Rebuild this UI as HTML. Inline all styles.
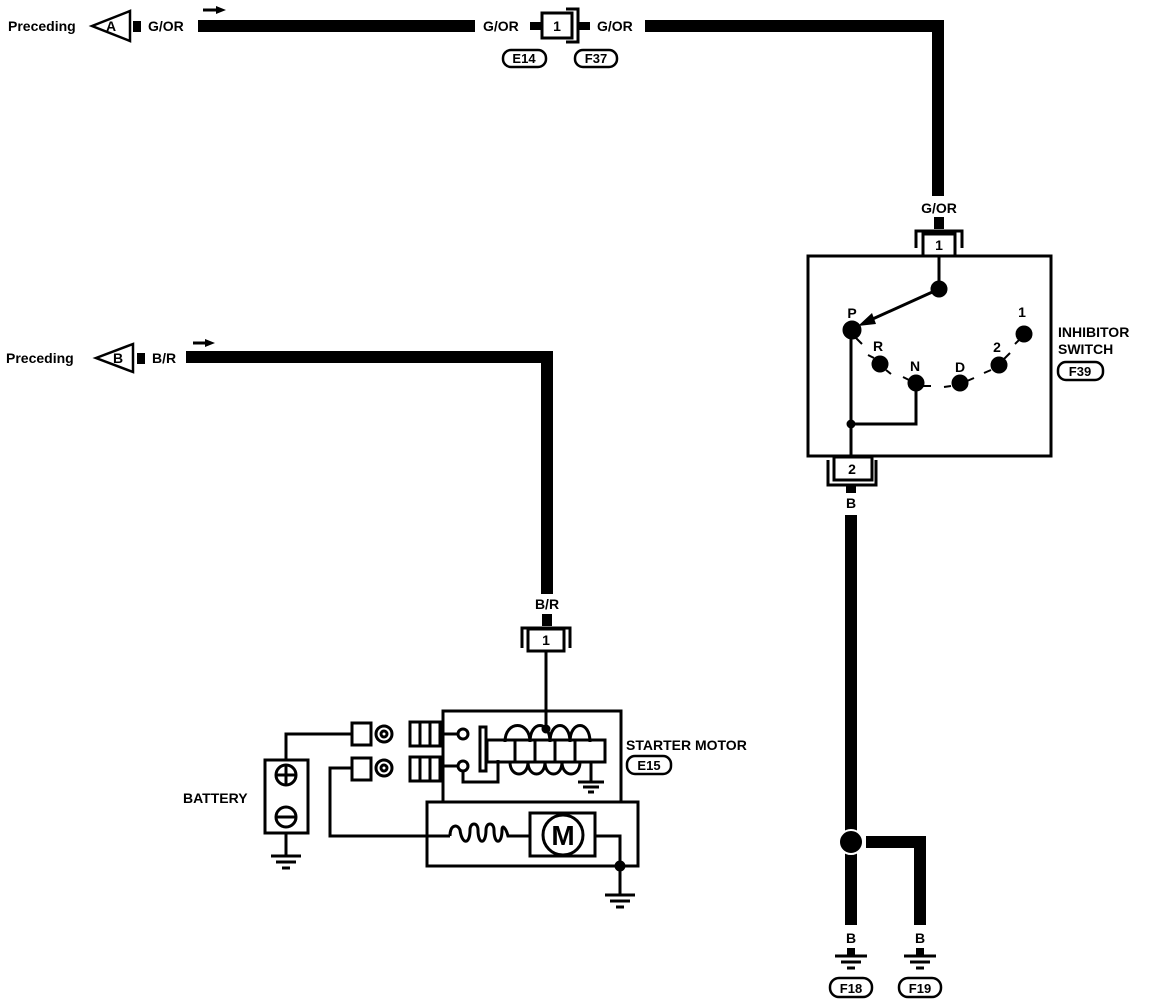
<!DOCTYPE html>
<html><head><meta charset="utf-8"><style>
html,body{margin:0;padding:0;background:#fff;}
svg{display:block;}
text{font-family:"Liberation Sans",sans-serif;font-weight:bold;fill:#000;}
</style></head><body>
<svg width="1152" height="1006" viewBox="0 0 1152 1006" xmlns="http://www.w3.org/2000/svg">
<g fill="none" stroke="#000">
<polygon points="92,26 130,11 130,41" stroke-width="2.5" fill="#fff"/>
<rect x="133" y="21" width="8" height="11" fill="#000" stroke="none"/>
<line x1="198" y1="26" x2="475" y2="26" stroke-width="12"/>
<line x1="530" y1="26" x2="542" y2="26" stroke-width="8"/>
<rect x="542" y="13" width="30" height="25" stroke-width="3" fill="#fff"/>
<polyline points="566,9 578,9 578,42 566,42" stroke-width="3"/>
<line x1="578" y1="26" x2="590" y2="26" stroke-width="8"/>
<polyline points="645,26 938,26 938,196" stroke-width="12"/>
<rect x="503" y="50" width="43" height="17" rx="8" stroke-width="2.5"/>
<rect x="575" y="50" width="42" height="17" rx="8" stroke-width="2.5"/>
<path d="M203,10 H218" stroke-width="3"/><polygon points="216,6 226,10 216,14" fill="#000" stroke="none"/>
<path d="M193,343 H206" stroke-width="3"/><polygon points="205,339 215,343 205,347" fill="#000" stroke="none"/>

<rect x="934" y="217" width="10" height="12" fill="#000" stroke="none"/>
<polyline points="916,248 916,231 962,231 962,248" stroke-width="3"/>
<rect x="923" y="234" width="32" height="22" stroke-width="3" fill="#fff"/>
<rect x="808" y="256" width="243" height="200" stroke-width="3"/>
<line x1="939" y1="256" x2="939" y2="289" stroke-width="3"/>
<circle cx="939" cy="289" r="8" fill="#000"/>
<line x1="939" y1="289" x2="866" y2="322" stroke-width="3"/>
<polygon points="858,326 872,313 876,324" fill="#000" stroke="none"/>
<circle cx="852" cy="330" r="9" fill="#000"/>
<polyline points="851,330 851,456" stroke-width="3"/>
<polyline points="851,424 916,424 916,383" stroke-width="3"/>
<circle cx="851" cy="424" r="4" fill="#000"/>
<circle cx="880" cy="364" r="8" fill="#000"/>
<circle cx="916" cy="383" r="8" fill="#000"/>
<circle cx="960" cy="383" r="8" fill="#000"/>
<circle cx="999" cy="365" r="8" fill="#000"/>
<circle cx="1024" cy="334" r="8" fill="#000"/>
<g stroke-width="2">
<line x1="856" y1="338" x2="862" y2="344"/>
<line x1="868" y1="355" x2="874" y2="358"/><line x1="886" y1="370" x2="891" y2="374"/>
<line x1="903" y1="377" x2="909" y2="380"/><line x1="922" y1="386" x2="931" y2="386"/>
<line x1="944" y1="387" x2="951" y2="386"/><line x1="967" y1="381" x2="974" y2="378"/>
<line x1="984" y1="373" x2="991" y2="370"/><line x1="1004" y1="359" x2="1010" y2="353"/>
<line x1="1015" y1="344" x2="1020" y2="339"/>
</g>
<rect x="834" y="457" width="38" height="23" stroke-width="3" fill="#fff"/>
<polyline points="828,460 828,485 876,485 876,460" stroke-width="3"/>
<rect x="846" y="485" width="10" height="8" fill="#000" stroke="none"/>
<rect x="1058" y="362" width="45" height="18" rx="8" stroke-width="2.5"/>
<line x1="851" y1="515" x2="851" y2="925" stroke-width="12"/>
<circle cx="851" cy="842" r="12" fill="#000" stroke="#fff" stroke-width="2"/>
<polyline points="866,842 920,842 920,925" stroke-width="12"/>
<g stroke-width="3">
<line x1="851" y1="948" x2="851" y2="955" stroke-width="8"/><line x1="835" y1="956" x2="867" y2="956"/><line x1="841" y1="962" x2="861" y2="962"/><line x1="847" y1="968" x2="855" y2="968"/>
<line x1="920" y1="948" x2="920" y2="955" stroke-width="8"/><line x1="904" y1="956" x2="936" y2="956"/><line x1="910" y1="962" x2="930" y2="962"/><line x1="916" y1="968" x2="924" y2="968"/>
</g>
<rect x="830" y="978" width="42" height="19" rx="9" stroke-width="2.5"/>
<rect x="899" y="978" width="42" height="19" rx="9" stroke-width="2.5"/>

<polygon points="96,358 133,344 133,372" stroke-width="2.5" fill="#fff"/>
<rect x="137" y="353" width="8" height="11" fill="#000" stroke="none"/>
<polyline points="186,357 547,357 547,594" stroke-width="12"/>
<rect x="542" y="614" width="10" height="12" fill="#000" stroke="none"/>
<polyline points="522,648 522,628 570,628 570,648" stroke-width="3"/>
<rect x="528" y="629" width="36" height="22" stroke-width="3" fill="#fff"/>
<line x1="546" y1="651" x2="546" y2="728" stroke-width="3"/>
<circle cx="546" cy="729" r="4" fill="#000"/>

<rect x="443" y="711" width="178" height="91" stroke-width="3"/>
<rect x="427" y="802" width="211" height="64" stroke-width="3"/>
<g stroke-width="3">
<rect x="352" y="723" width="19" height="22"/><circle cx="384" cy="734" r="8"/><circle cx="384" cy="734" r="3"/>
<rect x="352" y="758" width="19" height="22"/><circle cx="384" cy="768" r="8"/><circle cx="384" cy="768" r="3"/>
<rect x="410" y="722" width="30" height="24"/><line x1="420" y1="722" x2="420" y2="746"/><line x1="430" y1="722" x2="430" y2="746"/>
<rect x="410" y="757" width="30" height="24"/><line x1="420" y1="757" x2="420" y2="781"/><line x1="430" y1="757" x2="430" y2="781"/>
<line x1="443" y1="734" x2="457" y2="734"/><circle cx="463" cy="734" r="5" fill="#fff"/>
<line x1="443" y1="766" x2="457" y2="766"/><circle cx="463" cy="766" r="5" fill="#fff"/>
<polyline points="463,771 463,782 498,782 498,760"/>
<rect x="480" y="727" width="6" height="44"/>
<rect x="487" y="740" width="118" height="22"/>
<path d="M505,742 C505,720 530,720 530,742 C530,720 550,720 550,742 C550,720 570,720 570,742 C570,720 590,720 590,742"/>
<path d="M510,762 C510,778 528,778 528,762 C528,778 545,778 545,762 C545,778 562,778 562,762 C562,778 580,778 580,762"/>
<path d="M515,740 V762 M535,740 V762 M555,740 V762 M575,740 V762"/>
<line x1="591" y1="762" x2="591" y2="781"/>
<line x1="578" y1="782" x2="604" y2="782"/><line x1="583" y1="787" x2="599" y2="787"/><line x1="588" y1="792" x2="594" y2="792"/>
<rect x="265" y="760" width="43" height="73"/>
<circle cx="286" cy="775" r="10"/><line x1="276" y1="775" x2="296" y2="775"/><line x1="286" y1="765" x2="286" y2="785"/>
<circle cx="286" cy="817" r="10"/><line x1="276" y1="817" x2="296" y2="817"/>
<polyline points="286,760 286,734 352,734"/>
<line x1="286" y1="833" x2="286" y2="855"/>
<line x1="271" y1="856" x2="301" y2="856"/><line x1="276" y1="862" x2="296" y2="862"/><line x1="282" y1="868" x2="290" y2="868"/>
<polyline points="352,768 330,768 330,836 450,836"/>
<path d="M450,836 C450,824 458,824 460,830 C462,845 470,845 470,830 C470,822 478,822 478,830 C478,845 486,845 486,830 C486,822 494,822 494,830 C494,845 502,845 502,830 C502,824 506,828 508,836 L530,836"/>
<rect x="530" y="813" width="65" height="43"/>
<circle cx="563" cy="835" r="20"/>
<polyline points="595,836 620,836 620,895"/>
<circle cx="620" cy="866" r="4" fill="#000"/>
<line x1="605" y1="895" x2="635" y2="895"/><line x1="610" y1="901" x2="630" y2="901"/><line x1="616" y1="907" x2="624" y2="907"/>
</g>
<rect x="627" y="756" width="44" height="18" rx="8" stroke-width="2.5"/>
</g>

<g font-size="14">
<text x="8" y="31">Preceding</text>
<text x="111" y="31" text-anchor="middle">A</text>
<text x="148" y="31">G/OR</text>
<text x="483" y="31">G/OR</text>
<text x="557" y="31" text-anchor="middle">1</text>
<text x="597" y="31">G/OR</text>
<text x="524" y="63" text-anchor="middle" font-size="13">E14</text>
<text x="596" y="63" text-anchor="middle" font-size="13">F37</text>
<text x="939" y="213" text-anchor="middle">G/OR</text>
<text x="939" y="250" text-anchor="middle">1</text>
<text x="852" y="318" text-anchor="middle">P</text>
<text x="878" y="351" text-anchor="middle">R</text>
<text x="915" y="371" text-anchor="middle">N</text>
<text x="960" y="372" text-anchor="middle">D</text>
<text x="997" y="352" text-anchor="middle">2</text>
<text x="1022" y="317" text-anchor="middle">1</text>
<text x="1058" y="337">INHIBITOR</text>
<text x="1058" y="354">SWITCH</text>
<text x="1080" y="376" text-anchor="middle" font-size="13">F39</text>
<text x="852" y="474" text-anchor="middle">2</text>
<text x="851" y="508" text-anchor="middle">B</text>
<text x="851" y="943" text-anchor="middle">B</text>
<text x="920" y="943" text-anchor="middle">B</text>
<text x="851" y="993" text-anchor="middle" font-size="13">F18</text>
<text x="920" y="993" text-anchor="middle" font-size="13">F19</text>
<text x="6" y="363">Preceding</text>
<text x="118" y="363" text-anchor="middle">B</text>
<text x="152" y="363">B/R</text>
<text x="547" y="609" text-anchor="middle">B/R</text>
<text x="546" y="645" text-anchor="middle">1</text>
<text x="626" y="750">STARTER MOTOR</text>
<text x="649" y="770" text-anchor="middle" font-size="13">E15</text>
<text x="183" y="803">BATTERY</text>
<text x="563" y="845" text-anchor="middle" font-size="28" font-weight="normal">M</text>
</g>
</svg>
</body></html>
